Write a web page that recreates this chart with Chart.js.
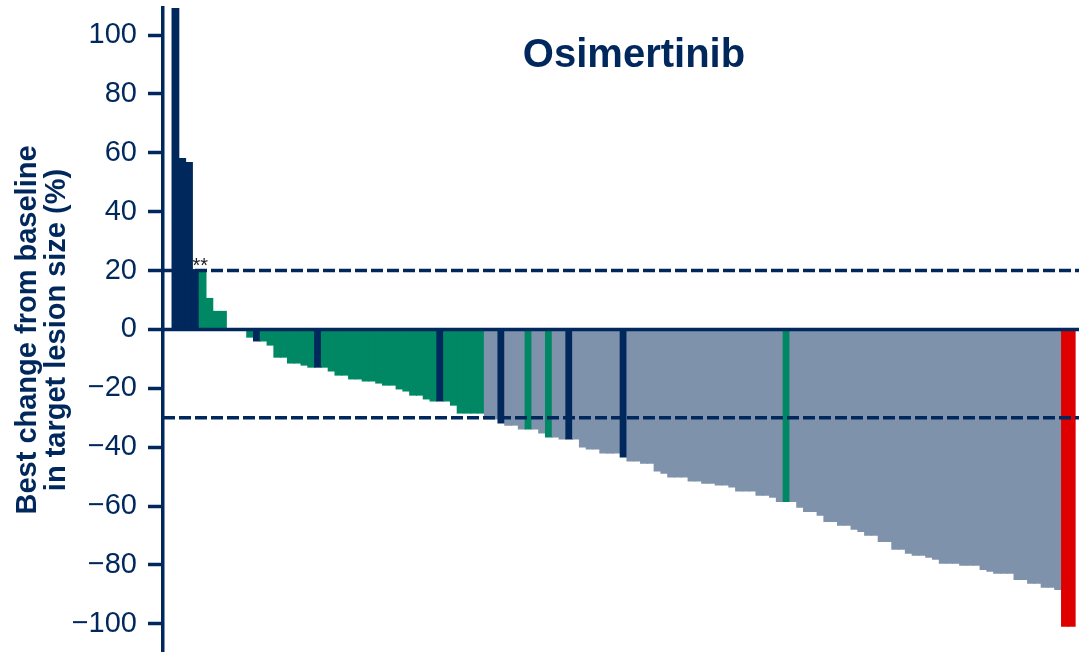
<!DOCTYPE html>
<html>
<head>
<meta charset="utf-8">
<script src="https://cdn.jsdelivr.net/npm/chart.js@4.4.1/dist/chart.umd.min.js"></script>
<style>
  html, body { margin: 0; padding: 0; background: #fff; }
  #wrap { width: 1079px; height: 652px; position: relative; }
</style>
</head>
<body>
<div id="wrap"><canvas id="waterfall"></canvas></div>
<script>
// Best % change per patient, sorted
const changes = [
  150, 58.2, 56.9, 20.5, 19.5, 10.7, 6.3, 6.3, -0.5, -0.5,
  -0.5, -2.8, -4.1, -4.1, -5.5, -9.6, -9.6, -11.6, -11.6, -12.3,
  -13.0, -13.0, -13.0, -14.3, -15.7, -15.7, -17.0, -17.0, -17.7, -17.7,
  -18.4, -19.1, -19.1, -20.4, -21.1, -22.5, -22.5, -23.8, -24.5, -24.5,
  -24.5, -25.9, -28.6, -28.6, -28.6, -28.6, -30.6, -30.6, -32.0, -32.7,
  -32.7, -34.0, -34.0, -34.0, -35.4, -36.7, -36.7, -37.4, -37.4, -37.4,
  -40.1, -40.8, -40.8, -42.2, -42.2, -42.2, -43.5, -44.9, -44.9, -45.6,
  -45.6, -48.3, -49.0, -50.3, -50.3, -50.3, -51.7, -51.7, -52.4, -52.4,
  -53.0, -53.0, -53.7, -55.1, -55.1, -55.1, -56.5, -56.5, -57.2, -58.6,
  -58.6, -58.6, -60.6, -62.0, -62.0, -63.3, -65.4, -65.4, -66.7, -66.7,
  -68.1, -68.8, -70.1, -70.1, -72.2, -72.2, -74.9, -74.9, -76.2, -76.9,
  -76.9, -77.6, -78.3, -79.6, -79.6, -79.6, -80.3, -80.3, -80.3, -81.7,
  -82.3, -83.0, -83.0, -83.0, -85.1, -85.1, -86.4, -86.4, -87.8, -87.8,
  -88.5, -101, -101,
]

// D = progressive disease, S = stable, P = partial, C = complete response
const response = (
  'DDDDSSSSSS' + 'SSDSSSSSSS' + 'SDSSSSSSSS' + 'SSSSSSSSSD' +
  'SSSSSSPPDP' + 'PPSPPSPPDP' + 'PPPPPPDPPP' + 'PPPPPPPPPP' +
  'PPPPPPPPPP' + 'SPPPPPPPPP' + 'PPPPPPPPPP' + 'PPPPPPPPPP' +
  'PPPPPPPPPP' + 'PCC'
).split('')

const refLines = [20, -30]
const note = { text: '**', bar: 4 }

const NAVY = '#00285c'
const colours = { D: NAVY, S: '#008763', P: '#7f92ab', C: '#de0000' }
const FONT = '"Liberation Sans", Arial, sans-serif'

const overlay = {
  id: 'overlay',
  afterDatasetsDraw(chart) {
    const { ctx, chartArea: a, scales: { x, y } } = chart
    ctx.save()
    ctx.strokeStyle = NAVY
    ctx.lineWidth = 3.5
    const y0 = y.getPixelForValue(0)
    ctx.beginPath()
    ctx.moveTo(a.left, y0)
    ctx.lineTo(a.right, y0)
    ctx.stroke()

    ctx.setLineDash([12, 4])
    refLines.forEach(v => {
      const py = y.getPixelForValue(v)
      ctx.beginPath()
      ctx.moveTo(a.left, py)
      ctx.lineTo(a.right, py)
      ctx.stroke()
    })
    ctx.setLineDash([])

    ctx.fillStyle = '#1a1a1a'
    ctx.font = '20px ' + FONT
    ctx.textAlign = 'left'
    ctx.textBaseline = 'alphabetic'
    ctx.fillText(note.text, x.getPixelForValue(note.bar - 0.5), y.getPixelForValue(refLines[0]) + 1)

    ctx.fillStyle = NAVY
    ctx.font = 'bold 40px ' + FONT
    ctx.textAlign = 'center'
    ctx.fillText('Osimertinib', a.left + 471, a.top + 59)
    ctx.restore()
  },
}

const ctx = document.getElementById('waterfall').getContext('2d')
new Chart(ctx, {
  type: 'bar',
  data: {
    datasets: [{
      data: changes.map((v, i) => ({ x: i + 1, y: v })),
      backgroundColor: response.map(r => colours[r]),
      borderWidth: 0,
      barPercentage: 1.15,
      categoryPercentage: 1,
    }],
  },
  options: {
    responsive: true,
    maintainAspectRatio: false,
    devicePixelRatio: 1,
    animation: false,
    layout: { padding: { top: 8, left: 0, right: 0, bottom: 0 } },
    plugins: { legend: { display: false }, tooltip: { enabled: false } },
    scales: {
      x: {
        type: 'linear',
        offset: false,
        min: -0.83,
        max: 134.07,
        display: false,
      },
      y: {
        min: -109.6,
        max: 109.2,
        border: { display: true, color: NAVY, width: 3.5 },
        grid: {
          drawOnChartArea: false,
          drawTicks: true,
          tickLength: 15,
          tickColor: NAVY,
          tickWidth: 3.5,
        },
        ticks: {
          stepSize: 20,
          includeBounds: false,
          padding: 11,
          color: NAVY,
          font: { family: FONT, size: 29 },
          callback: v => (v < 0 ? '\u2212' + Math.abs(v) : String(v)),
        },
        title: {
          display: true,
          text: ['Best change from baseline', 'in target lesion size (%)'],
          color: NAVY,
          font: { family: FONT, size: 29, weight: 'bold', lineHeight: 1.0 },
          padding: { top: 13, bottom: 0 },
        },
        afterFit: s => {
          s.width = 163
          s.paddingTop = 0
          s.paddingBottom = 0
        },
      },
    },
  },
  plugins: [overlay],
})
</script>
</body>
</html>
